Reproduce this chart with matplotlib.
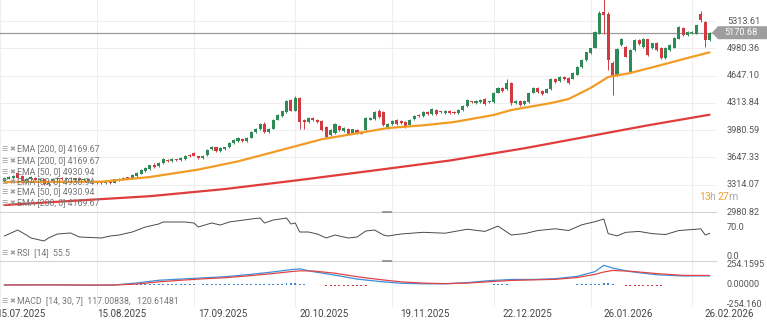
import matplotlib
matplotlib.use("Agg")
import matplotlib.pyplot as plt
from matplotlib.patches import Polygon
from matplotlib.transforms import blended_transform_factory

plt.rcParams['font.family'] = ['Roboto', 'DejaVu Sans']

# ---------------- data ----------------
opens = [3360,3390,3400,3460,3420,3360,3380,3400,3370,3380,3320,3350,3380,3400,3380,3400,3370,3395,3370,3390,
         3365,3330,3350,3330,3350,3340,3370,3380,3405,3390,3420,3450,3480,3510,3560,3540,3580,3620,3600,3625,
         3615,3630,3680,3700,3660,3640,3680,3750,3770,3730,3750,3770,3820,3850,3870,3850,3890,3960,3990,4060,
         3960,4000,4110,4150,4200,4350,4220,4370,4110,4080,4130,4110,4090,4020,3920,3950,4030,3970,4000,3950,
         3980,3960,3980,4110,4120,4210,4200,4010,4060,4110,4090,4080,4050,4120,4170,4150,4200,4180,4230,4210,
         4190,4220,4200,4190,4230,4270,4330,4310,4320,4360,4320,4320,4440,4500,4480,4560,4310,4340,4300,4320,
         4440,4500,4460,4440,4480,4610,4580,4630,4620,4610,4660,4750,4840,4920,4990,5160,5420,5400,4800,4650,
         5020,5000,4690,4960,5080,5000,5090,4980,5050,4990,4860,4960,4990,5100,5230,5140,5170,5160,5400,5300,
         5080]
highs = [3405,3420,3430,3475,3430,3400,3420,3410,3395,3390,3360,3400,3410,3410,3410,3410,3400,3405,3395,3400,
         3375,3360,3360,3360,3360,3390,3395,3410,3415,3440,3470,3510,3530,3560,3580,3590,3640,3630,3640,3635,
         3650,3680,3690,3710,3670,3680,3750,3790,3780,3770,3780,3840,3870,3900,3880,3900,3970,4010,4070,4080,
         4010,4120,4180,4220,4350,4360,4400,4380,4120,4140,4140,4120,4100,4030,3990,4070,4040,4020,4010,4000,
         3990,3970,4140,4140,4210,4240,4210,4070,4100,4120,4100,4090,4120,4170,4180,4210,4210,4250,4240,4220,
         4230,4230,4210,4240,4290,4360,4340,4350,4360,4370,4340,4450,4510,4510,4600,4570,4350,4350,4350,4450,
         4510,4510,4470,4490,4620,4620,4640,4640,4630,4690,4770,4850,4940,4990,5190,5430,5620,5420,4830,4980,
         5110,5010,4970,5090,5090,5110,5100,5050,5060,5000,5000,5030,5120,5250,5240,5190,5190,5270,5440,5310,
         5180]
lows =  [3350,3380,3390,3390,3340,3350,3370,3360,3360,3310,3300,3340,3370,3375,3370,3370,3360,3365,3360,3350,
         3330,3320,3320,3320,3325,3330,3360,3370,3380,3380,3410,3440,3470,3500,3520,3530,3570,3590,3590,3605,
         3605,3620,3650,3660,3630,3630,3670,3740,3720,3720,3740,3760,3810,3840,3840,3840,3880,3950,3980,3950,
         3950,3990,4100,4140,4190,4210,4210,4000,4000,4070,4090,4070,3970,3880,3910,3940,3970,3960,3930,3940,
         3930,3930,3970,4100,4110,4130,4030,4000,4050,4050,4060,4010,4040,4110,4140,4140,4170,4170,4170,4190,
         4180,4180,4180,4180,4220,4260,4310,4300,4310,4290,4310,4310,4430,4450,4470,4290,4300,4280,4290,4310,
         4430,4440,4410,4430,4470,4560,4570,4590,4550,4600,4650,4740,4830,4910,4980,5150,5150,4720,4410,4640,
         5010,4870,4720,4950,5020,4990,4890,4970,4950,4850,4850,4950,4980,5090,5130,5130,5160,5150,5300,5000,
         5070]
closes = [3395,3410,3420,3400,3350,3390,3410,3370,3385,3320,3350,3390,3400,3385,3400,3380,3395,3375,3390,3360,
          3340,3350,3330,3350,3335,3380,3385,3400,3390,3430,3460,3500,3520,3550,3530,3580,3630,3600,3630,3615,
          3640,3670,3660,3670,3640,3670,3740,3780,3730,3760,3770,3830,3860,3890,3850,3890,3960,4000,4060,3960,
          4000,4110,4170,4210,4340,4220,4370,4080,4080,4130,4100,4080,3980,3900,3980,4060,3980,4010,3940,3990,
          3950,3940,4130,4130,4200,4140,4040,4060,4090,4060,4070,4020,4110,4160,4150,4200,4180,4240,4180,4200,
          4220,4190,4190,4230,4280,4350,4320,4340,4350,4300,4330,4440,4500,4460,4560,4310,4340,4290,4340,4440,
          4500,4450,4420,4480,4610,4570,4630,4600,4560,4680,4750,4840,4930,4980,5180,5410,5390,4840,4640,4970,
          5100,4880,4960,5080,5030,5100,4900,5040,4960,4860,4990,5020,5110,5240,5140,5180,5180,5260,5320,5080,
          5170.68]

date_labels = ['15.07.2025', '15.08.2025', '17.09.2025', '20.10.2025',
               '19.11.2025', '22.12.2025', '26.01.2026', '26.02.2026']
grid_idx = [-1, 21, 43, 66, 88, 111, 133, 156]

ema50_idx = [0, 22, 33, 44, 53, 65, 72, 87, 95, 102, 111, 115, 124, 128, 133, 137, 142, 149, 155, 160]
ema50_val = [3348, 3352, 3409, 3500, 3600, 3770, 3870, 4007, 4040, 4080, 4166, 4227, 4312, 4361, 4496, 4630,
             4679, 4776, 4862, 4930.94]
ema200_idx = [0, 16, 33, 50, 67, 84, 101, 118, 135, 146, 160]
ema200_val = [3067, 3120, 3175, 3262, 3373, 3490, 3610, 3760, 3930, 4040, 4169.67]

rsi_idx = [0, 3, 5, 6, 9, 10, 12, 15, 17, 22, 24, 26, 29, 32, 35, 36, 41, 43, 44, 47, 49, 51, 56, 58, 59, 61,
           64, 65, 66, 67, 69, 71, 73, 75, 78, 80, 82, 84, 86, 87, 90, 95, 100, 105, 109, 112, 115, 118, 121,
           125, 128, 131, 134, 136, 137, 139, 141, 144, 147, 150, 153, 157, 158, 159, 160]
rsi_val = [49.7, 63.2, 51.9, 45.2, 38.4, 45.2, 54.2, 56.5, 47.4, 45.2, 49.7, 51.9, 58.7, 70.0, 76.8, 81.3,
           81.3, 79.0, 70.0, 79.0, 74.5, 81.3, 88.1, 90.3, 79.0, 85.8, 90.3, 76.8, 79.0, 58.7, 58.7, 54.2, 45.2,
           51.9, 45.2, 47.4, 61.0, 63.2, 51.9, 49.7, 54.2, 58, 56, 65, 60, 72, 52, 55, 62, 66, 62, 75, 82, 88,
           55, 50, 58, 60, 55, 53, 62, 65, 66, 52, 55.5]

macd_idx = [0, 10, 20, 25, 30, 35, 40, 45, 50, 55, 60, 65, 67, 70, 75, 80, 85, 90, 95, 100, 105, 110, 115,
            120, 125, 130, 134, 136, 138, 142, 148, 154, 160]
macd_val = [0, 2, -3, 0, 25, 60, 75, 90, 105, 130, 160, 195, 205, 170, 125, 75, 45, 22, 15, 15, 30, 55, 70,
            70, 80, 110, 170, 250, 215, 170, 130, 115, 117.0]
signal_val = [0, 1, -1, 0, 12, 40, 60, 78, 92, 115, 140, 170, 180, 178, 150, 105, 70, 40, 24, 17, 24, 42, 58,
              65, 72, 95, 135, 165, 185, 175, 145, 122, 120.6]
macd_hist = [1, 0, -1, 1, -2, 0, 1, -1, 0, -2, 0, 1, 1, 0, 1, -1, 0, -1, 0, -1, -2, -1, -1, 0, -1,
             2, 3, 4, 5, 7, 9, 11, 13, 14,
             14, 14, 13, 12, 11, 10, 10, 9, 8, 7, 6, 7,
             8, 9, 9, 10, 10, 11, 12, 12, 13, 13, 14, 15, 16, 16, 15, 16, 17, 18, 20, 19, 21,
             15, 10, 6, 2, -2, -6, -9, -11, -12, -12, -13, -12, -12, -11, -9, -7, -6, -5, -6, -6, -5, -4, -4, -3,
             -3, -2, -1, 0, 1, 1, 1, 2, 2, 2, 2, 2, 3, 4, 5, 5, 6, 6, 6, 6,
             7, 8, 8, 9, 6, 4, 2, 1, 1, 2, 2, 1, 1, 2, 4, 4, 4, 4, 5, 7, 9, 11, 13, 15, 18,
             22, 20, 10, 2, -6, -9, -10, -11, -11, -10, -9, -8, -8, -7, -6, -5, -4, -3, -2, -1, -1, -1, 0, -1, -3.6]

price_ticks = [5313.61, 4980.36, 4647.10, 4313.84, 3980.59, 3647.33, 3314.07, 2980.82]
last_price = 5170.68

# ---------------- layout ----------------
W, H = 767, 327
fig = plt.figure(figsize=(W / 100, H / 100), dpi=100)

def axes_px(x0, y0, x1, y1):
    return fig.add_axes([x0 / W, 1 - y1 / H, (x1 - x0) / W, (y1 - y0) / H])

PLOT_R = 716
ax = axes_px(0, 0, PLOT_R, 212)
ax_rsi = axes_px(0, 212, PLOT_R, 261)
ax_macd = axes_px(0, 261, PLOT_R, 307)

n = len(closes)
xlim = (-1.01, 161.46)
for a in (ax, ax_rsi, ax_macd):
    a.set_xlim(*xlim)
    a.set_xticks([])
    a.set_yticks([])
    for s in a.spines.values():
        s.set_visible(False)
    a.set_facecolor('white')
    for g in grid_idx:
        a.axvline(g, color='#eeeeee', lw=0.8, zorder=0)

ax.set_ylim(2982, 5570)
for p in price_ticks:
    ax.axhline(p, color='#eeeeee', lw=0.8, zorder=0)

GREEN = '#2e8b57'
RED = '#d23a41'
for i in range(n):
    o, h, l, c = opens[i], highs[i], lows[i], closes[i]
    col = GREEN if c >= o else RED
    ax.vlines(i, l, h, color=col, lw=0.7, zorder=3)
    body = max(abs(c - o), 12)
    ax.bar(i, body, bottom=min(o, c), width=0.7, color=col, zorder=4, linewidth=0)

ax.plot(ema50_idx, ema50_val, color='#f39c25', lw=1.6, zorder=5, solid_capstyle='round',
        solid_joinstyle='round')
ax.plot(ema200_idx, ema200_val, color='#e03c3c', lw=1.6, zorder=5, solid_capstyle='round',
        solid_joinstyle='round')

# current price line
ax.axhline(last_price, color='#9a9a9a', lw=0.9, zorder=2)
bt = blended_transform_factory(ax.transAxes, ax.transData)
xr = 767 / PLOT_R
xl = 718 / PLOT_R
xa = 712 / PLOT_R
hh = 6.5 * 12.207
tag = Polygon([[xa, last_price], [xl, last_price + hh], [xr, last_price + hh],
               [xr, last_price - hh], [xl, last_price - hh]], closed=True,
              transform=bt, clip_on=False, facecolor='#9e9e9e', edgecolor='none', zorder=10)
ax.add_patch(tag)
ax.text(724 / PLOT_R, last_price, f'{last_price:.2f}', transform=bt, clip_on=False,
        color='white', fontsize=6.6, va='center', ha='left', zorder=11)

# right price labels
for p in price_ticks:
    if abs(p - last_price) < 100:
        continue
    ax.text(727 / PLOT_R, p, f'{p:.2f}', transform=bt, clip_on=False, color='#555555',
            fontsize=6.6, va='center', ha='left')

# legend rows (behind the series)
legend_rows = [(149, 'EMA [200, 0] 4169.67'), (161, 'EMA [200, 0] 4169.67'),
               (172, 'EMA [50, 0] 4930.94'), (182, 'EMA [50, 0] 4930.94'),
               (192, 'EMA [50, 0] 4930.94'), (203, 'EMA [200, 0] 4169.67')]

def label_row(y_px, text):
    fig.text(1 / W, 1 - y_px / H, '\u2630', fontsize=5, color='#9a9a9a', va='center', ha='left',
             family=['DejaVu Sans'], zorder=1)
    fig.text(9 / W, 1 - y_px / H, '\u2716', fontsize=5, color='#9a9a9a', va='center', ha='left',
             family=['DejaVu Sans'], zorder=1)
    fig.text(17 / W, 1 - y_px / H, text, fontsize=6.3, color='#777777', va='center', ha='left', zorder=1)

for y_px, t in legend_rows:
    label_row(y_px, t)

# countdown text
fig.text(699 / W, 1 - 197 / H, '13', fontsize=7.6, color='#f0a030', va='center', ha='left')
fig.text(709.5 / W, 1 - 197 / H, 'h', fontsize=7.6, color='#aaaaaa', va='center', ha='left')
fig.text(718 / W, 1 - 197 / H, '27', fontsize=7.6, color='#f0a030', va='center', ha='left')
fig.text(728.5 / W, 1 - 197 / H, 'm', fontsize=7.6, color='#aaaaaa', va='center', ha='left')

# RSI
ax_rsi.set_ylim(-6.8, 103.9)
ax_rsi.plot(rsi_idx, rsi_val, color='#4a4a4a', lw=0.7, zorder=3)
bt_r = blended_transform_factory(ax_rsi.transAxes, ax_rsi.transData)
ax_rsi.text(727 / PLOT_R, 70, '70.0', transform=bt_r, clip_on=False, color='#555555',
            fontsize=6.6, va='center', ha='left')
ax_rsi.text(727 / PLOT_R, 2.5, '0.0', transform=bt_r, clip_on=False, color='#555555',
            fontsize=6.6, va='center', ha='left')
label_row(253, 'RSI  [14]  55.5')

# MACD
ax_macd.set_ylim(-280, 305)
hcols = ['#3a86d6' if v >= 0 else '#d23a41' for v in macd_hist]
ax_macd.bar(range(len(macd_hist)), macd_hist, width=0.45, color=hcols, zorder=2, linewidth=0)
ax_macd.plot(macd_idx, macd_val, color='#3d8fd9', lw=0.9, zorder=3)
ax_macd.plot(macd_idx, signal_val, color='#e04545', lw=0.9, zorder=3)
bt_m = blended_transform_factory(ax_macd.transAxes, ax_macd.transData)
ax_macd.text(727 / PLOT_R, 254.1595, '254.1595', transform=bt_m, clip_on=False, color='#555555',
             fontsize=6.6, va='center', ha='left')
ax_macd.text(727 / PLOT_R, 0, '0.00000', transform=bt_m, clip_on=False, color='#555555',
             fontsize=6.6, va='center', ha='left')
ax_macd.text(727 / PLOT_R, -254.16, '-254.160', transform=bt_m, clip_on=False, color='#555555',
             fontsize=6.6, va='center', ha='left')
label_row(301, 'MACD  [14, 30, 7]  117.00838,   120.61481')

# separators
for y_px in (212, 261):
    fig.add_artist(plt.Line2D([0, PLOT_R / W], [1 - y_px / H] * 2, color='#d5d5d5', lw=0.8))
    fig.add_artist(plt.Line2D([383 / W, 391 / W], [1 - (y_px - 0.5) / H] * 2, color='#888888', lw=1.2))

# date labels (first one is cut by the left edge, as in the reference)
label_px = [21, 122, 223, 324, 425, 527, 628, 729]
for lp, t in zip(label_px, date_labels):
    fig.text(lp / W, 1 - 314 / H, t, fontsize=7, color='#444444', va='center', ha='center')

fig.savefig('out.png', dpi=100, facecolor='white')
